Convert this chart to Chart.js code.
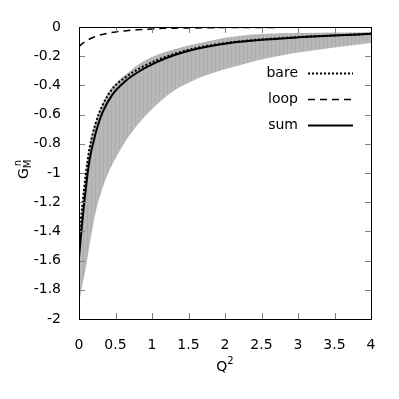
<!DOCTYPE html>
<html>
<head>
<meta charset="utf-8">
<script src="https://cdn.jsdelivr.net/npm/chart.js@4/dist/chart.umd.min.js"></script>
<style>
html,body{margin:0;padding:0;background:#fff;}
#wrap{width:399px;height:399px;position:relative;}
</style>
</head>
<body>
<div id="wrap"><canvas id="c" width="399" height="399"></canvas></div>
<script>
// ---- data ----
const xTickValues = [0, 0.5, 1, 1.5, 2, 2.5, 3, 3.5, 4];
const xTickLabels = ["0", "0.5", "1", "1.5", "2", "2.5", "3", "3.5", "4"];
const yTickValues = [0, -0.2, -0.4, -0.6, -0.8, -1, -1.2, -1.4, -1.6, -1.8, -2];
const yTickLabels = ["0", "-0.2", "-0.4", "-0.6", "-0.8", "-1", "-1.2", "-1.4", "-1.6", "-1.8", "-2"];

const seriesLabels = ["bare", "loop", "sum"];

const qSum  = [0, 0.025, 0.05, 0.09, 0.145, 0.227, 0.318, 0.455, 0.636, 0.864, 1.09, 1.32, 1.545, 1.77, 2.09, 2.47, 3.0, 3.5, 4.0];
const gSum  = [-1.58, -1.44, -1.31, -1.12, -0.91, -0.73, -0.59, -0.465, -0.37, -0.292, -0.235, -0.19, -0.157, -0.133, -0.108, -0.089, -0.071, -0.058, -0.047];
const gBare = [-1.45, -1.32, -1.20, -1.02, -0.83, -0.66, -0.54, -0.425, -0.345, -0.274, -0.223, -0.182, -0.151, -0.128, -0.105, -0.086, -0.069, -0.057, -0.046];

const qLoop = [0, 0.05, 0.1, 0.2, 0.3, 0.4, 0.5, 0.65, 0.8, 1.0, 1.3, 1.6, 2.0, 2.5, 3.0, 4.0];
const gLoop = [-0.134, -0.112, -0.095, -0.07, -0.053, -0.042, -0.034, -0.025, -0.019, -0.013, -0.008, -0.006, -0.004, -0.003, -0.002, -0.001];

const qBand     = [0, 0.045, 0.09, 0.145, 0.227, 0.318, 0.41, 0.545, 0.68, 0.864, 1.09, 1.32, 1.545, 1.77, 2.0, 2.25, 2.5, 3.0, 3.5, 4.0];
const bandUpper = [-1.42, -1.22, -1.0, -0.81, -0.65, -0.53, -0.44, -0.365, -0.31, -0.24, -0.187, -0.15, -0.122, -0.097, -0.073, -0.058, -0.048, -0.041, -0.038, -0.036];
const bandLower = [-1.90, -1.77, -1.66, -1.49, -1.27, -1.11, -0.99, -0.86, -0.75, -0.633, -0.52, -0.43, -0.371, -0.326, -0.29, -0.255, -0.222, -0.175, -0.14, -0.11];

// ---- helpers ----
const pts = (xs, ys) => xs.map((x, i) => ({x: x, y: ys[i]}));

function makePattern() {
  const p = document.createElement('canvas');
  p.width = 4; p.height = 1;
  const c = p.getContext('2d');
  c.fillStyle = '#b8b8b8'; c.fillRect(0, 0, 4, 1);
  c.fillStyle = '#adadad'; c.fillRect(3, 0, 1, 1);
  return document.getElementById('c').getContext('2d').createPattern(p, 'repeat');
}

const FONT = '"DejaVu Sans", sans-serif';
Chart.defaults.font.family = FONT;
Chart.defaults.font.size = 14;
Chart.defaults.color = '#000';

const lineCommon = {pointRadius: 0, fill: false, cubicInterpolationMode: 'monotone', borderColor: '#000', order: 0};

const framePlugin = {
  id: 'frame',
  afterDatasetsDraw(chart) {
    const {ctx, chartArea: a, scales: {x, y}} = chart;
    ctx.save();
    ctx.lineWidth = 1;
    ctx.strokeStyle = '#808080';
    ctx.beginPath();
    x.ticks.forEach(t => {
      const px = Math.round(x.getPixelForValue(t.value)) + 0.5;
      ctx.moveTo(px, a.bottom); ctx.lineTo(px, a.bottom - 6);
      ctx.moveTo(px, a.top); ctx.lineTo(px, a.top + 6);
    });
    y.ticks.forEach(t => {
      const py = Math.round(y.getPixelForValue(t.value)) + 0.5;
      ctx.moveTo(a.left, py); ctx.lineTo(a.left + 6, py);
      ctx.moveTo(a.right, py); ctx.lineTo(a.right - 6, py);
    });
    ctx.stroke();
    ctx.strokeStyle = '#000';
    ctx.strokeRect(a.left + 0.5, a.top + 0.5, a.right - a.left, a.bottom - a.top);
    ctx.restore();
  },
  afterDraw(chart) {
    const {ctx, chartArea: a} = chart;
    ctx.save();
    ctx.fillStyle = '#000';
    // legend (from line datasets)
    const legendRows = [73, 99, 125];
    let r = 0;
    chart.data.datasets.forEach(ds => {
      if (!seriesLabels.includes(ds.label)) return;
      const yy = legendRows[r++];
      ctx.font = '14px ' + FONT;
      ctx.textAlign = 'right';
      ctx.textBaseline = 'middle';
      ctx.fillText(ds.label, 298, yy);
      ctx.beginPath();
      ctx.setLineDash(ds.borderDash || []);
      ctx.lineWidth = ds.borderWidth;
      ctx.strokeStyle = ds.borderColor;
      ctx.moveTo(308, yy + 0.5); ctx.lineTo(353, yy + 0.5);
      ctx.stroke();
      ctx.setLineDash([]);
    });
    // x title Q^2
    ctx.textAlign = 'left';
    ctx.textBaseline = 'alphabetic';
    ctx.font = '14px ' + FONT;
    const wQ = ctx.measureText('Q').width;
    ctx.font = '10px ' + FONT;
    const w2 = ctx.measureText('2').width;
    const cx = (a.left + a.right) / 2;
    const x0 = cx - (wQ + w2) / 2;
    ctx.font = '14px ' + FONT;
    ctx.fillText('Q', x0, 371);
    ctx.font = '10px ' + FONT;
    ctx.fillText('2', x0 + wQ, 364);
    // y title G_M^n
    ctx.translate(28, 179);
    ctx.rotate(-Math.PI / 2);
    ctx.font = '14px ' + FONT;
    const wG = ctx.measureText('G').width;
    ctx.fillText('G', 0, 0);
    ctx.font = '10px ' + FONT;
    ctx.fillText('M', wG, 3);
    ctx.fillText('n', wG + 2, -7);
    ctx.restore();
  }
};

new Chart(document.getElementById('c'), {
  type: 'line',
  data: {
    datasets: [
      Object.assign({}, lineCommon, {label: 'bare', data: pts(qSum, gBare), borderWidth: 2, borderDash: [2, 2]}),
      Object.assign({}, lineCommon, {label: 'loop', data: pts(qLoop, gLoop), borderWidth: 1.5, borderDash: [7, 5]}),
      Object.assign({}, lineCommon, {label: 'sum', data: pts(qSum, gSum), borderWidth: 2, borderDash: []}),
      {label: 'band upper', data: pts(qBand, bandUpper), pointRadius: 0, borderWidth: 0, borderColor: 'rgba(0,0,0,0)',
       backgroundColor: makePattern(), fill: '+1', cubicInterpolationMode: 'monotone', order: 10},
      {label: 'band lower', data: pts(qBand, bandLower), pointRadius: 0, borderWidth: 0, borderColor: 'rgba(0,0,0,0)',
       fill: false, cubicInterpolationMode: 'monotone', order: 10}
    ]
  },
  options: {
    responsive: false,
    animation: false,
    events: [],
    layout: {padding: {left: 0, right: 28, top: 27, bottom: 0}},
    plugins: {legend: {display: false}, tooltip: {enabled: false}, title: {display: false}},
    scales: {
      x: {
        type: 'linear', min: 0, max: 4,
        grid: {display: false}, border: {display: false},
        afterBuildTicks: s => { s.ticks = xTickValues.map(v => ({value: v})); },
        afterFit: s => { s.height = 80; },
        ticks: {padding: 10, maxRotation: 0, autoSkip: false, callback: (v, i) => xTickLabels[i]}
      },
      y: {
        type: 'linear', min: -2, max: 0,
        grid: {display: false}, border: {display: false},
        afterBuildTicks: s => { s.ticks = yTickValues.map(v => ({value: v})); },
        afterFit: s => { s.width = 79; },
        ticks: {padding: 10, autoSkip: false, callback: (v, i) => yTickLabels[i]}
      }
    }
  },
  plugins: [framePlugin]
});
</script>
</body>
</html>
